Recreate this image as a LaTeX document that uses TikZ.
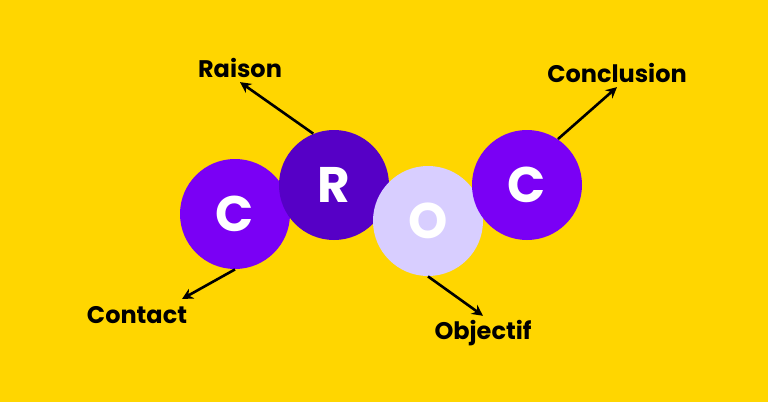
\documentclass[tikz,border=0pt]{standalone}
\usepackage{fontspec}
\setmainfont{Poppins}
\usetikzlibrary{positioning,arrows.meta}

\definecolor{bgyellow}{RGB}{255,214,0}
\definecolor{crocviolet}{RGB}{122,0,245}
\definecolor{crocdark}{RGB}{86,0,198}
\definecolor{croclight}{RGB}{216,206,255}

\begin{document}
\begin{tikzpicture}[
        x=0.5pt, y=-0.5pt,
        letter/.style={circle, minimum size=55pt, inner sep=0pt, text=white, font=\fontsize{25}{25}\selectfont\bfseries},
        word/.style={font=\fontsize{12}{12}\selectfont\bfseries, text=black, inner sep=2pt},
        pointer/.style={-{Stealth[length=5.5pt,width=5.5pt]}, line width=1.3pt, black}
    ]

    % --- Background ---
    \fill[bgyellow] (0,0) rectangle (768,402);
    \useasboundingbox (0,0) rectangle (768,402);

    % --- Letters ---
    \node[letter, fill=crocviolet] (c1) at (235,214) {C};
    \node[letter, fill=crocdark] (r) at (334,185) {R};
    \node[letter, fill=croclight] (o) at (428,221) {O};
    \node[letter, fill=crocviolet] (c2) at (527,185) {C};

    % --- Labels ---
    \node[word] (raison) at (240,68) {Raison};
    \node[word] (conclusion) at (617,73) {Conclusion};
    \node[word] (contact) at (137,315) {Contact};
    \node[word] (objectif) at (483,333) {Objectif};
    \coordinate (tipcontact) at (182,299);

    % --- Connections ---
    \draw[pointer] (r.112) -- (raison.south);
    \draw[pointer] (c2.56) -- (conclusion.south);
    \draw[pointer] (c1.south) -- (tipcontact);
    \draw[pointer] (o.south) -- (objectif.north);

\end{tikzpicture}
\end{document}
